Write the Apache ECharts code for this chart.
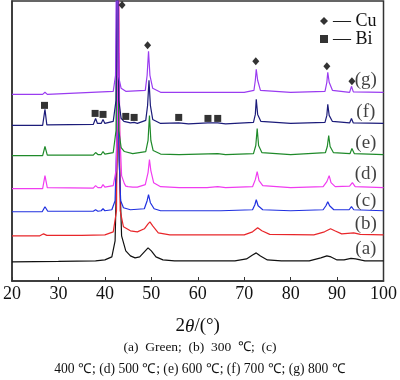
<!DOCTYPE html>
<html><head><meta charset="utf-8">
<script src="https://cdn.jsdelivr.net/npm/echarts@6/dist/echarts.min.js"></script>
<style>html,body{margin:0;padding:0;background:#fff}#c{width:400px;height:380px}</style>
</head><body><div id="c"></div>
<script>
// x ticks
const xTicks = [20,30,40,50,60,70,80,90,100];
// series names / colors
const seriesNames = ['(a)','(b)','(c)','(d)','(e)','(f)','(g)'];
const seriesColors = ['#111111','#e8262a','#2030e0','#f03cf0','#1f8a2a','#1c1c7a','#9a3cf0'];
// XRD patterns: [2theta, intensity (offset stacked, a.u.)]
const patA = [[20,19],[30,19.5],[38,20],[40,21],[41.5,24],[42.2,40],[42.6,120],[42.8,300],[43.1,120],[43.6,45],[44.5,30],[45.5,25],[46.5,23],[47.5,24],[48.5,29],[49.3,33],[50,30],[51,24],[52.5,21],[55,20],[60,20],[68,20],[70.5,22],[71.8,26],[72.6,28],[73.5,25],[75,21],[78,20],[84,20],[86.5,23],[87.8,25],[88.7,24],[90,21],[91.5,21],[93,22.5],[94,22],[96,20],[100,20]];
const patB = [[20,45],[26,45],[26.8,47],[27.5,45.5],[35,45.5],[40,46],[41.8,49],[42.5,70],[42.9,320],[43.3,70],[44,54],[45.5,50],[47,49],[48.5,52],[49.3,57],[49.7,59],[50.3,55],[51.5,48],[54,46],[60,46],[70,46],[71.8,49],[72.9,53],[73.8,50],[75.5,46.5],[85,46],[87.3,49],[88.6,52],[89.5,50],[91,47],[93.6,48],[95,46.5],[100,46]];
const patC = [[20,69],[26.5,69],[27.1,74],[27.7,69.5],[37.5,69.5],[38,71],[38.5,69.5],[39.2,70],[39.6,72],[40,70],[41.5,71],[42.2,80],[42.5,130],[42.7,320],[43,130],[43.4,80],[44,73],[45.5,71],[48.5,72],[49.1,80],[49.4,86],[49.8,78],[50.6,72],[52,70],[65,70],[71.8,71],[72.3,76],[72.6,81],[73,75],[74,71],[80,70],[87,71],[87.6,75],[88,79],[88.4,75],[89.3,71],[92.6,71],[93.1,74],[93.6,71],[100,70]];
const patD = [[20,92],[26.6,92],[27.1,105],[27.6,93],[37.5,92.5],[38,95],[38.5,93],[39.2,93],[39.6,96],[40,93.5],[41.8,95],[42.4,110],[42.7,160],[42.9,330],[43.2,150],[43.6,105],[44.2,97],[44.5,94.5],[45,94],[46,93.5],[46.3,94],[47,93.5],[48.7,96],[49.3,108],[49.6,121],[49.9,110],[50.5,98],[52,94],[56,93],[62,93],[64.3,94],[66,93],[71.8,94],[72.4,101],[72.8,109],[73.2,100],[74,95],[80,93],[87,94],[87.8,99],[88.3,105],[88.7,98],[89.6,94],[92.7,94.5],[93.3,98],[93.9,94],[100,93]];
const patE = [[20,125],[26.6,125],[27.1,134],[27.6,125.5],[37.5,125.5],[38,128],[38.5,126],[39.2,126],[39.6,129],[40,126.5],[41.8,128],[42.4,150],[42.7,340],[43,150],[43.5,133],[44.2,129],[44.6,128],[46,127],[48.8,129],[49.3,140],[49.6,165],[49.9,140],[50.4,130],[52,126.5],[56,126],[64.3,127],[66,126],[72,127],[72.5,135],[72.8,152],[73.1,135],[73.8,128],[80,126],[87.5,128],[87.9,134],[88.2,145],[88.5,134],[89.2,128],[92.8,127],[93.2,132],[93.7,127],[100,126]];
const patF = [[20,155],[26.6,155],[27.1,171],[27.5,155.5],[37.5,156],[38,162],[38.4,157],[39.2,157],[39.6,161],[40,157],[41.8,159],[42.4,180],[42.7,360],[43,180],[43.5,162],[44.1,159],[44.5,158.5],[45.5,157.5],[46.3,158],[47,157],[48.8,160],[49.2,175],[49.5,200],[49.8,175],[50.3,161],[52,157],[55.9,157.5],[58,156.5],[62.2,157.5],[64.3,157.5],[66,156.5],[72,158],[72.4,166],[72.6,181],[72.9,166],[73.6,159],[80,157],[87.4,158],[87.8,165],[88,176],[88.3,165],[89,159],[92.7,157.5],[93.1,162],[93.5,157.5],[100,157]];
const patG = [[20,186],[26.6,186],[27.1,188],[27.6,186],[41.8,189],[42.3,205],[42.6,380],[42.9,205],[43.5,192],[44.5,189],[48.7,190],[49.1,205],[49.4,229],[49.7,205],[50.3,192],[52,188],[70,188],[72.1,190],[72.4,200],[72.6,211],[72.9,200],[73.5,190],[80,188],[87.4,189],[87.8,198],[88.0,208],[88.3,198],[89,190],[92.7,188],[93.1,194],[93.5,188.5],[100,188]];
// phase markers
const cuMarks = [[43.7,275],[49.2,235],[72.5,219],[87.8,214],[93.2,199]];
const biMarks = [[27.0,175],[37.9,167],[39.6,166],[44.5,164],[46.3,163],[55.9,163],[62.2,162],[64.3,162]];
// curve label anchors
const curveLabelPos = [[96.2,32],[96.2,57],[96.2,80],[96.2,107],[96.2,137],[96.2,168],[96.2,200]];
const xTitle = '2θ/(°)';
const caption1 = '(a)  Green;  (b)  300  ℃;  (c)';
const caption2 = '400 ℃; (d) 500 ℃; (e) 600 ℃; (f) 700 ℃; (g) 800 ℃';

const pats = [patA,patB,patC,patD,patE,patF,patG];
const serif = '"Liberation Serif","Times New Roman",serif';
const chart = echarts.init(document.getElementById('c'));
const series = pats.map((p,i)=>({
  name: seriesNames[i], type:'line', data:p, showSymbol:false, clip:true,
  lineStyle:{color:seriesColors[i], width:1.2}, itemStyle:{color:seriesColors[i]},
  silent:true, z:2+i
}));
series.push({name:'Cu', type:'scatter', data:cuMarks, symbol:'diamond', symbolSize:[7,8], itemStyle:{color:'#000'}, z:20});
series.push({name:'Bi', type:'scatter', data:biMarks, symbol:'rect', symbolSize:7, itemStyle:{color:'#000'}, z:20});
series.push({name:'labels', type:'scatter', symbolSize:0,
  data: curveLabelPos.map((p,i)=>({value:p, label:{show:true, formatter:seriesNames[i]}})),
  label:{position:'inside', color:'#111', fontFamily:serif, fontSize:19}, z:21});
chart.setOption({
  animation:false,
  backgroundColor:'#fff',
  grid:{left:9, right:11, top:1, bottom:99, show:true, borderColor:'#333', borderWidth:1.5},
  legend:{data:['Cu','Bi'], orient:'vertical', left:315, top:7, itemGap:0, itemWidth:8, itemHeight:8,
    formatter:n=>'— '+n, textStyle:{fontFamily:serif, fontSize:18, color:'#111'}},
  xAxis:{type:'value', min:20, max:100, interval:10,
    axisLine:{lineStyle:{color:'#333', width:1.5}},
    axisTick:{inside:true, length:4, lineStyle:{color:'#333'}},
    axisLabel:{color:'#111', fontFamily:serif, fontSize:18, margin:4},
    splitLine:{show:false},
    name:'{n|2}{i|θ}{n|/(°)}', nameLocation:'middle', nameGap:36,
    nameTextStyle:{rich:{n:{fontFamily:serif, fontSize:19, color:'#111'}, i:{fontFamily:serif, fontSize:19, fontStyle:'italic', color:'#111'}}}
  },
  yAxis:{type:'value', min:0, max:279, axisLine:{show:true, lineStyle:{color:'#333', width:1.5}},
    axisTick:{show:false}, axisLabel:{show:false}, splitLine:{show:false}},
  graphic:[
    {type:'text', left:'center', top:340, style:{text:caption1, font:'13.5px '+serif, fill:'#111'}},
    {type:'text', left:'center', top:362, style:{text:caption2, font:'13.6px '+serif, fill:'#111'}}
  ],
  series: series
});
</script></body></html>
